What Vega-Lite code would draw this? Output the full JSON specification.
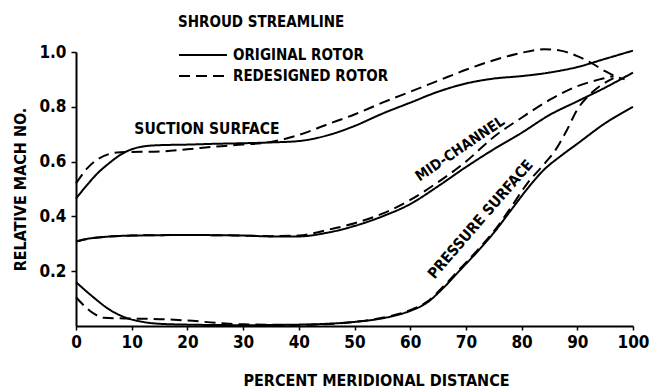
{
  "$schema": "https://vega.github.io/schema/vega-lite/v6.json",
  "autosize": {"type": "none"},
  "width": 557,
  "height": 274,
  "padding": {"left": 76, "top": 52, "right": 32, "bottom": 66},
  "background": "white",
  "config": {
    "view": {"stroke": null},
    "font": "'DejaVu Sans Condensed', sans-serif",
    "axis": {"grid": false, "domainColor": "black", "domainWidth": 2, "tickColor": "black", "tickWidth": 1.5, "labelColor": "black", "titleColor": "black", "labelFontWeight": "bold", "titleFontWeight": "bold", "labelFont": "'DejaVu Sans Condensed', sans-serif", "titleFont": "'DejaVu Sans Condensed', sans-serif"},
    "legend": {"labelFont": "'DejaVu Sans Condensed', sans-serif", "titleFont": "'DejaVu Sans Condensed', sans-serif"}
  },
  "datasets": {
    "curves": [
      {"surface": "suction", "rotor": "ORIGINAL ROTOR", "x": 0, "y": 0.465},
      {"surface": "suction", "rotor": "ORIGINAL ROTOR", "x": 2, "y": 0.515},
      {"surface": "suction", "rotor": "ORIGINAL ROTOR", "x": 4, "y": 0.56},
      {"surface": "suction", "rotor": "ORIGINAL ROTOR", "x": 6, "y": 0.595},
      {"surface": "suction", "rotor": "ORIGINAL ROTOR", "x": 8, "y": 0.625},
      {"surface": "suction", "rotor": "ORIGINAL ROTOR", "x": 10, "y": 0.645},
      {"surface": "suction", "rotor": "ORIGINAL ROTOR", "x": 12, "y": 0.655},
      {"surface": "suction", "rotor": "ORIGINAL ROTOR", "x": 15, "y": 0.66},
      {"surface": "suction", "rotor": "ORIGINAL ROTOR", "x": 20, "y": 0.662},
      {"surface": "suction", "rotor": "ORIGINAL ROTOR", "x": 25, "y": 0.665},
      {"surface": "suction", "rotor": "ORIGINAL ROTOR", "x": 30, "y": 0.667},
      {"surface": "suction", "rotor": "ORIGINAL ROTOR", "x": 35, "y": 0.67},
      {"surface": "suction", "rotor": "ORIGINAL ROTOR", "x": 40, "y": 0.675},
      {"surface": "suction", "rotor": "ORIGINAL ROTOR", "x": 45, "y": 0.695},
      {"surface": "suction", "rotor": "ORIGINAL ROTOR", "x": 50, "y": 0.73},
      {"surface": "suction", "rotor": "ORIGINAL ROTOR", "x": 55, "y": 0.775},
      {"surface": "suction", "rotor": "ORIGINAL ROTOR", "x": 60, "y": 0.815},
      {"surface": "suction", "rotor": "ORIGINAL ROTOR", "x": 65, "y": 0.855},
      {"surface": "suction", "rotor": "ORIGINAL ROTOR", "x": 70, "y": 0.885},
      {"surface": "suction", "rotor": "ORIGINAL ROTOR", "x": 75, "y": 0.903},
      {"surface": "suction", "rotor": "ORIGINAL ROTOR", "x": 80, "y": 0.912},
      {"surface": "suction", "rotor": "ORIGINAL ROTOR", "x": 85, "y": 0.925},
      {"surface": "suction", "rotor": "ORIGINAL ROTOR", "x": 90, "y": 0.945},
      {"surface": "suction", "rotor": "ORIGINAL ROTOR", "x": 95, "y": 0.975},
      {"surface": "suction", "rotor": "ORIGINAL ROTOR", "x": 100, "y": 1.005},

      {"surface": "suction", "rotor": "REDESIGNED ROTOR", "x": 0, "y": 0.52},
      {"surface": "suction", "rotor": "REDESIGNED ROTOR", "x": 2, "y": 0.575},
      {"surface": "suction", "rotor": "REDESIGNED ROTOR", "x": 4, "y": 0.61},
      {"surface": "suction", "rotor": "REDESIGNED ROTOR", "x": 6, "y": 0.628},
      {"surface": "suction", "rotor": "REDESIGNED ROTOR", "x": 8, "y": 0.634},
      {"surface": "suction", "rotor": "REDESIGNED ROTOR", "x": 10, "y": 0.635},
      {"surface": "suction", "rotor": "REDESIGNED ROTOR", "x": 15, "y": 0.637},
      {"surface": "suction", "rotor": "REDESIGNED ROTOR", "x": 20, "y": 0.645},
      {"surface": "suction", "rotor": "REDESIGNED ROTOR", "x": 25, "y": 0.655},
      {"surface": "suction", "rotor": "REDESIGNED ROTOR", "x": 30, "y": 0.662},
      {"surface": "suction", "rotor": "REDESIGNED ROTOR", "x": 35, "y": 0.672},
      {"surface": "suction", "rotor": "REDESIGNED ROTOR", "x": 40, "y": 0.697},
      {"surface": "suction", "rotor": "REDESIGNED ROTOR", "x": 45, "y": 0.735},
      {"surface": "suction", "rotor": "REDESIGNED ROTOR", "x": 50, "y": 0.772},
      {"surface": "suction", "rotor": "REDESIGNED ROTOR", "x": 55, "y": 0.815},
      {"surface": "suction", "rotor": "REDESIGNED ROTOR", "x": 60, "y": 0.855},
      {"surface": "suction", "rotor": "REDESIGNED ROTOR", "x": 65, "y": 0.895},
      {"surface": "suction", "rotor": "REDESIGNED ROTOR", "x": 70, "y": 0.935},
      {"surface": "suction", "rotor": "REDESIGNED ROTOR", "x": 75, "y": 0.97},
      {"surface": "suction", "rotor": "REDESIGNED ROTOR", "x": 80, "y": 0.997},
      {"surface": "suction", "rotor": "REDESIGNED ROTOR", "x": 84, "y": 1.01},
      {"surface": "suction", "rotor": "REDESIGNED ROTOR", "x": 87, "y": 1.005},
      {"surface": "suction", "rotor": "REDESIGNED ROTOR", "x": 90, "y": 0.985},
      {"surface": "suction", "rotor": "REDESIGNED ROTOR", "x": 92.5, "y": 0.96},
      {"surface": "suction", "rotor": "REDESIGNED ROTOR", "x": 95, "y": 0.93},
      {"surface": "suction", "rotor": "REDESIGNED ROTOR", "x": 97, "y": 0.91},
      {"surface": "suction", "rotor": "REDESIGNED ROTOR", "x": 98.5, "y": 0.9},

      {"surface": "mid", "rotor": "ORIGINAL ROTOR", "x": 0, "y": 0.308},
      {"surface": "mid", "rotor": "ORIGINAL ROTOR", "x": 2, "y": 0.318},
      {"surface": "mid", "rotor": "ORIGINAL ROTOR", "x": 5, "y": 0.325},
      {"surface": "mid", "rotor": "ORIGINAL ROTOR", "x": 10, "y": 0.33},
      {"surface": "mid", "rotor": "ORIGINAL ROTOR", "x": 20, "y": 0.332},
      {"surface": "mid", "rotor": "ORIGINAL ROTOR", "x": 30, "y": 0.33},
      {"surface": "mid", "rotor": "ORIGINAL ROTOR", "x": 35, "y": 0.327},
      {"surface": "mid", "rotor": "ORIGINAL ROTOR", "x": 40, "y": 0.327},
      {"surface": "mid", "rotor": "ORIGINAL ROTOR", "x": 45, "y": 0.34},
      {"surface": "mid", "rotor": "ORIGINAL ROTOR", "x": 50, "y": 0.365},
      {"surface": "mid", "rotor": "ORIGINAL ROTOR", "x": 55, "y": 0.4},
      {"surface": "mid", "rotor": "ORIGINAL ROTOR", "x": 60, "y": 0.445},
      {"surface": "mid", "rotor": "ORIGINAL ROTOR", "x": 65, "y": 0.51},
      {"surface": "mid", "rotor": "ORIGINAL ROTOR", "x": 70, "y": 0.58},
      {"surface": "mid", "rotor": "ORIGINAL ROTOR", "x": 75, "y": 0.645},
      {"surface": "mid", "rotor": "ORIGINAL ROTOR", "x": 80, "y": 0.705},
      {"surface": "mid", "rotor": "ORIGINAL ROTOR", "x": 85, "y": 0.77},
      {"surface": "mid", "rotor": "ORIGINAL ROTOR", "x": 90, "y": 0.82},
      {"surface": "mid", "rotor": "ORIGINAL ROTOR", "x": 95, "y": 0.87},
      {"surface": "mid", "rotor": "ORIGINAL ROTOR", "x": 100, "y": 0.925},

      {"surface": "mid", "rotor": "REDESIGNED ROTOR", "x": 0, "y": 0.308},
      {"surface": "mid", "rotor": "REDESIGNED ROTOR", "x": 2, "y": 0.318},
      {"surface": "mid", "rotor": "REDESIGNED ROTOR", "x": 5, "y": 0.325},
      {"surface": "mid", "rotor": "REDESIGNED ROTOR", "x": 10, "y": 0.33},
      {"surface": "mid", "rotor": "REDESIGNED ROTOR", "x": 20, "y": 0.332},
      {"surface": "mid", "rotor": "REDESIGNED ROTOR", "x": 30, "y": 0.33},
      {"surface": "mid", "rotor": "REDESIGNED ROTOR", "x": 35, "y": 0.328},
      {"surface": "mid", "rotor": "REDESIGNED ROTOR", "x": 40, "y": 0.33},
      {"surface": "mid", "rotor": "REDESIGNED ROTOR", "x": 45, "y": 0.35},
      {"surface": "mid", "rotor": "REDESIGNED ROTOR", "x": 50, "y": 0.375},
      {"surface": "mid", "rotor": "REDESIGNED ROTOR", "x": 55, "y": 0.41},
      {"surface": "mid", "rotor": "REDESIGNED ROTOR", "x": 60, "y": 0.46},
      {"surface": "mid", "rotor": "REDESIGNED ROTOR", "x": 65, "y": 0.525},
      {"surface": "mid", "rotor": "REDESIGNED ROTOR", "x": 70, "y": 0.6},
      {"surface": "mid", "rotor": "REDESIGNED ROTOR", "x": 75, "y": 0.69},
      {"surface": "mid", "rotor": "REDESIGNED ROTOR", "x": 80, "y": 0.76},
      {"surface": "mid", "rotor": "REDESIGNED ROTOR", "x": 85, "y": 0.825},
      {"surface": "mid", "rotor": "REDESIGNED ROTOR", "x": 90, "y": 0.875},
      {"surface": "mid", "rotor": "REDESIGNED ROTOR", "x": 94, "y": 0.9},
      {"surface": "mid", "rotor": "REDESIGNED ROTOR", "x": 96.5, "y": 0.912},

      {"surface": "pressure", "rotor": "ORIGINAL ROTOR", "x": 0, "y": 0.16},
      {"surface": "pressure", "rotor": "ORIGINAL ROTOR", "x": 3, "y": 0.107},
      {"surface": "pressure", "rotor": "ORIGINAL ROTOR", "x": 6, "y": 0.06},
      {"surface": "pressure", "rotor": "ORIGINAL ROTOR", "x": 9, "y": 0.03},
      {"surface": "pressure", "rotor": "ORIGINAL ROTOR", "x": 12, "y": 0.015},
      {"surface": "pressure", "rotor": "ORIGINAL ROTOR", "x": 15, "y": 0.008},
      {"surface": "pressure", "rotor": "ORIGINAL ROTOR", "x": 20, "y": 0.005},
      {"surface": "pressure", "rotor": "ORIGINAL ROTOR", "x": 30, "y": 0.003},
      {"surface": "pressure", "rotor": "ORIGINAL ROTOR", "x": 40, "y": 0.005},
      {"surface": "pressure", "rotor": "ORIGINAL ROTOR", "x": 45, "y": 0.008},
      {"surface": "pressure", "rotor": "ORIGINAL ROTOR", "x": 50, "y": 0.015},
      {"surface": "pressure", "rotor": "ORIGINAL ROTOR", "x": 55, "y": 0.028},
      {"surface": "pressure", "rotor": "ORIGINAL ROTOR", "x": 58, "y": 0.042},
      {"surface": "pressure", "rotor": "ORIGINAL ROTOR", "x": 60, "y": 0.055},
      {"surface": "pressure", "rotor": "ORIGINAL ROTOR", "x": 63, "y": 0.085},
      {"surface": "pressure", "rotor": "ORIGINAL ROTOR", "x": 66, "y": 0.14},
      {"surface": "pressure", "rotor": "ORIGINAL ROTOR", "x": 69, "y": 0.205},
      {"surface": "pressure", "rotor": "ORIGINAL ROTOR", "x": 72, "y": 0.27},
      {"surface": "pressure", "rotor": "ORIGINAL ROTOR", "x": 75, "y": 0.34},
      {"surface": "pressure", "rotor": "ORIGINAL ROTOR", "x": 78, "y": 0.42},
      {"surface": "pressure", "rotor": "ORIGINAL ROTOR", "x": 81, "y": 0.5},
      {"surface": "pressure", "rotor": "ORIGINAL ROTOR", "x": 84, "y": 0.57},
      {"surface": "pressure", "rotor": "ORIGINAL ROTOR", "x": 87, "y": 0.62},
      {"surface": "pressure", "rotor": "ORIGINAL ROTOR", "x": 90, "y": 0.665},
      {"surface": "pressure", "rotor": "ORIGINAL ROTOR", "x": 95, "y": 0.74},
      {"surface": "pressure", "rotor": "ORIGINAL ROTOR", "x": 100, "y": 0.8},

      {"surface": "pressure", "rotor": "REDESIGNED ROTOR", "x": 0, "y": 0.105},
      {"surface": "pressure", "rotor": "REDESIGNED ROTOR", "x": 3, "y": 0.048},
      {"surface": "pressure", "rotor": "REDESIGNED ROTOR", "x": 5, "y": 0.03},
      {"surface": "pressure", "rotor": "REDESIGNED ROTOR", "x": 10, "y": 0.027},
      {"surface": "pressure", "rotor": "REDESIGNED ROTOR", "x": 15, "y": 0.025},
      {"surface": "pressure", "rotor": "REDESIGNED ROTOR", "x": 20, "y": 0.02},
      {"surface": "pressure", "rotor": "REDESIGNED ROTOR", "x": 25, "y": 0.012},
      {"surface": "pressure", "rotor": "REDESIGNED ROTOR", "x": 30, "y": 0.006},
      {"surface": "pressure", "rotor": "REDESIGNED ROTOR", "x": 40, "y": 0.004},
      {"surface": "pressure", "rotor": "REDESIGNED ROTOR", "x": 50, "y": 0.015},
      {"surface": "pressure", "rotor": "REDESIGNED ROTOR", "x": 55, "y": 0.03},
      {"surface": "pressure", "rotor": "REDESIGNED ROTOR", "x": 60, "y": 0.058},
      {"surface": "pressure", "rotor": "REDESIGNED ROTOR", "x": 63, "y": 0.088},
      {"surface": "pressure", "rotor": "REDESIGNED ROTOR", "x": 66, "y": 0.145},
      {"surface": "pressure", "rotor": "REDESIGNED ROTOR", "x": 69, "y": 0.21},
      {"surface": "pressure", "rotor": "REDESIGNED ROTOR", "x": 72, "y": 0.275},
      {"surface": "pressure", "rotor": "REDESIGNED ROTOR", "x": 75, "y": 0.345},
      {"surface": "pressure", "rotor": "REDESIGNED ROTOR", "x": 78, "y": 0.43},
      {"surface": "pressure", "rotor": "REDESIGNED ROTOR", "x": 81, "y": 0.52},
      {"surface": "pressure", "rotor": "REDESIGNED ROTOR", "x": 84, "y": 0.59},
      {"surface": "pressure", "rotor": "REDESIGNED ROTOR", "x": 86, "y": 0.64},
      {"surface": "pressure", "rotor": "REDESIGNED ROTOR", "x": 88, "y": 0.71},
      {"surface": "pressure", "rotor": "REDESIGNED ROTOR", "x": 90, "y": 0.79},
      {"surface": "pressure", "rotor": "REDESIGNED ROTOR", "x": 92, "y": 0.84},
      {"surface": "pressure", "rotor": "REDESIGNED ROTOR", "x": 94, "y": 0.875},
      {"surface": "pressure", "rotor": "REDESIGNED ROTOR", "x": 96.5, "y": 0.905}
    ]
  },
  "layer": [
    {
      "data": {"name": "curves"},
      "mark": {"type": "line", "interpolate": "monotone", "color": "black", "strokeWidth": 2, "clip": false},
      "encoding": {
        "x": {"field": "x", "type": "quantitative", "scale": {"domain": [0, 100], "nice": false},
          "axis": {"values": [0, 10, 20, 30, 40, 50, 60, 70, 80, 90, 100], "title": "PERCENT MERIDIONAL DISTANCE", "labelFontSize": 17, "tickSize": 4, "labelPadding": 4, "titleFontSize": 16, "titleX": 300, "titleY": 54, "titleAlign": "center", "titleAnchor": null, "titleBaseline": "middle", "labelFlush": false}},
        "y": {"field": "y", "type": "quantitative", "scale": {"domain": [0, 1], "nice": false},
          "axis": {"values": [0.2, 0.4, 0.6, 0.8, 1.0], "format": ".1f", "title": "RELATIVE MACH NO.", "labelFontSize": 17, "tickSize": 5, "labelPadding": 5, "titleFontSize": 16, "titleX": -56, "titleBaseline": "middle", "labelFlush": false}},
        "detail": {"field": "surface", "type": "nominal"},
        "strokeDash": {"field": "rotor", "type": "nominal",
          "scale": {"domain": ["ORIGINAL ROTOR", "REDESIGNED ROTOR"], "range": [[1, 0], [11, 6]]},
          "legend": {"orient": "none", "legendX": 102, "legendY": -37, "title": "SHROUD STREAMLINE", "titleFontSize": 15, "titleFontWeight": "bold", "titleColor": "black", "titlePadding": 14, "titleLimit": 400, "labelFontSize": 15, "labelFontWeight": "bold", "labelColor": "black", "symbolType": "M -1 0 H 3.8", "symbolSize": 400, "symbolStrokeWidth": 2, "symbolStrokeColor": "black", "symbolFillColor": "transparent", "labelOffset": 33, "rowPadding": 2, "padding": 0, "labelLimit": 300}
        }
      }
    },
    {
      "data": {"values": [{"label": "SUCTION SURFACE", "x": 23.5, "y": 0.72}]},
      "mark": {"type": "text", "fontSize": 15.5, "fontWeight": "bold", "color": "black"},
      "encoding": {"x": {"field": "x", "type": "quantitative"}, "y": {"field": "y", "type": "quantitative"}, "text": {"field": "label"}}
    },
    {
      "data": {"values": [{"label": "MID-CHANNEL", "x": 69, "y": 0.645}]},
      "mark": {"type": "text", "fontSize": 14.5, "fontWeight": "bold", "color": "black", "angle": -34},
      "encoding": {"x": {"field": "x", "type": "quantitative"}, "y": {"field": "y", "type": "quantitative"}, "text": {"field": "label"}}
    },
    {
      "data": {"values": [{"label": "PRESSURE SURFACE", "x": 72.6, "y": 0.39}]},
      "mark": {"type": "text", "fontSize": 15, "fontWeight": "bold", "color": "black", "angle": -49},
      "encoding": {"x": {"field": "x", "type": "quantitative"}, "y": {"field": "y", "type": "quantitative"}, "text": {"field": "label"}}
    }
  ]
}
